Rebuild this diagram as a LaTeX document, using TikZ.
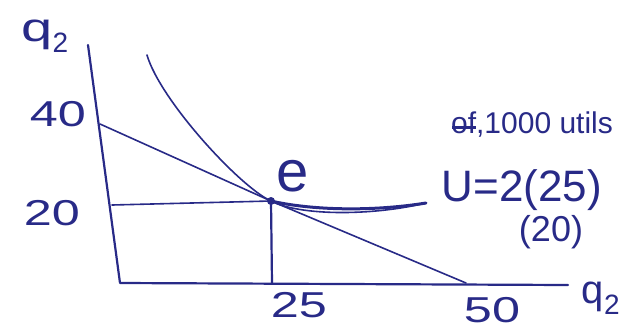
\documentclass[tikz,border=0pt]{standalone}
\usepackage{fontspec}
\setmainfont{Liberation Sans}
\definecolor{ink}{RGB}{40,42,135}
\newcommand{\wide}[1]{\scalebox{1.4}[1]{#1}}
\begin{document}
\begin{tikzpicture}[x=1pt,y=-1pt,
  pen/.style={draw=ink,line width=2.2pt,line cap=round,line join=round},
  thin pen/.style={draw=ink,line width=1.6pt,line cap=round,line join=round},
  lab/.style={text=ink,inner sep=0pt,font=\fontsize{36}{38}\selectfont},
  small lab/.style={text=ink,inner sep=0pt,font=\fontsize{30}{32}\selectfont}]
\useasboundingbox (0,0) rectangle (631,330);
% coordinates
\coordinate (Ytop) at (88,45);
\coordinate (O) at (120,283);
\coordinate (Xend) at (568,285);
\coordinate (A) at (100,124);
\coordinate (B) at (466,283);
\coordinate (E) at (271,201);
\coordinate (Y20) at (112,205);
\coordinate (X25) at (272,283);
\coordinate (C1) at (147,55);
\coordinate (C2) at (426,203);
% axes
\draw[pen] (Ytop) -- (O) -- (Xend);
% budget line
\draw[thin pen] (A) -- (E) -- (B);
% drop lines
\draw[thin pen] (Y20) -- (E);
\draw[pen] (E) -- (X25);
% indifference curve
\draw[thin pen] (C1) .. controls (160,100) and (240,187) .. (E)
  .. controls (300,216) and (372,216) .. (C2);
\draw[pen,line width=3pt] (E) .. controls (310,210) and (370,212) .. (C2);
\fill[ink] (E) circle (4);
% labels
\node[lab,font=\fontsize{40}{42}\selectfont] (qy) at (45,36) {\wide{q}\textsubscript{2}};
\node[lab] (l40) at (58,114) {\wide{40}};
\node[lab] (l20) at (52,213) {\wide{20}};
\node[lab,font=\fontsize{58}{60}\selectfont] (le) at (293,176) {e};
\node[lab] (l25) at (299,305) {\wide{25}};
\node[lab] (l50) at (492,310) {\wide{50}};
\node[lab,font=\fontsize{40}{42}\selectfont] (qx) at (601,298) {q\textsubscript{2}};
\node[small lab] (utils) at (532,125) {\rlap{\kern1pt\rule[5pt]{24pt}{2.5pt}}of,1000 utils};
\node[lab,font=\fontsize{44}{46}\selectfont] (U) at (522,190) {U=2(25)};
\node[lab] (U20) at (551,232) {(20)};
\end{tikzpicture}
\end{document}
